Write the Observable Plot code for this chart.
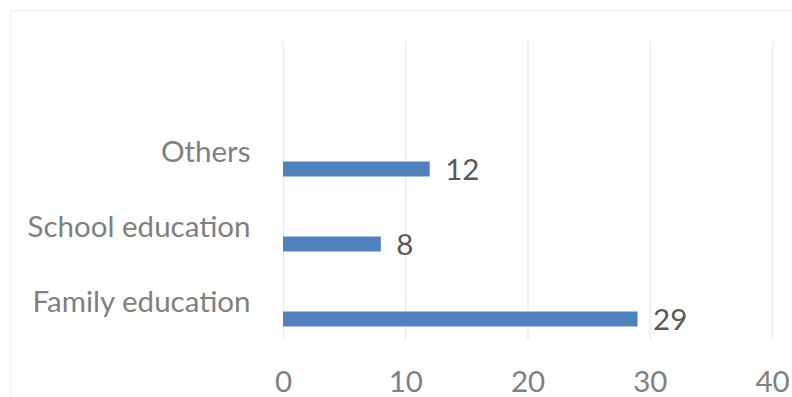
<!DOCTYPE html>
<html>
<head>
<meta charset="utf-8">
<script src="https://cdn.jsdelivr.net/npm/d3@7"></script>
<script src="https://cdn.jsdelivr.net/npm/@observablehq/plot@0.6"></script>
<style>
  html, body { margin: 0; padding: 0; background: #fff; }
  #wrap { position: relative; width: 792px; height: 397px; overflow: hidden; }
  #border { position: absolute; left: 10px; top: 10px; width: 800px; height: 400px; border: 1px solid #efefef; box-sizing: border-box; }
  #chart { position: absolute; left: 0; top: 0; }
</style>
</head>
<body>
<div id="wrap">
  <div id="border"></div>
  <div id="chart"></div>
</div>
<script>
const categories = ["Others", "School education", "Family education"];
const values = [12, 8, 29];
const xTicks = [0, 10, 20, 30, 40];

const data = categories.map((c, i) => ({category: c, value: values[i]}));
const font = "Lato, 'Open Sans', sans-serif";
const fs = 29.5;

const chart = Plot.plot({
  width: 792,
  height: 397,
  marginLeft: 283,
  marginRight: 20,
  marginTop: 41,
  marginBottom: 57,
  style: {fontFamily: font, fontSize: fs + "px", background: "transparent", overflow: "visible"},
  x: {domain: [0, 40], ticks: xTicks},
  y: {type: "point", domain: categories, range: [152, 302], padding: 0},
  marks: [
    Plot.gridX(xTicks, {stroke: "#ededed", strokeOpacity: 1, strokeWidth: 1.5}),
    Plot.ruleY(data, {y: "category", x1: 0, x2: "value", stroke: "#4f81bd", strokeWidth: 15, dy: 16.5}),
    Plot.text(data, {y: "category", x: "value", text: d => String(d.value), textAnchor: "start", dx: 15, dy: 18, fill: "#595959", fontSize: fs}),
    Plot.axisY({tickSize: 0, tickPadding: 33, fill: "#808080", fontSize: fs, label: null}),
    Plot.axisX(xTicks, {tickSize: 0, tickPadding: 31, fill: "#808080", fontSize: fs, label: null})
  ]
});
document.getElementById("chart").appendChild(chart);
</script>
</body>
</html>
